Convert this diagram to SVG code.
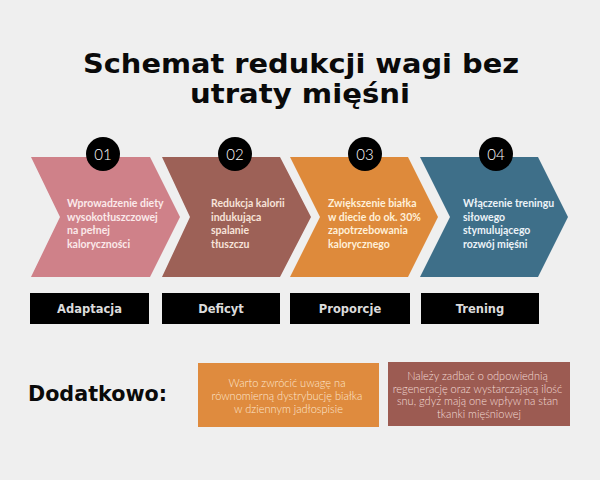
<svg xmlns="http://www.w3.org/2000/svg" width="600" height="480" viewBox="0 0 600 480">
  <style>
    .title { font-family: "DejaVu Sans", "Liberation Sans", sans-serif; font-weight: bold; font-size: 26px; fill: #0a0a0a; text-anchor: middle; }
    .num { font-family: "Lato", "Liberation Sans", sans-serif; font-weight: 300; font-size: 15px; fill: #ffffff; text-anchor: middle; }
    .step { font-family: "Lato", "Liberation Sans", sans-serif; font-weight: bold; font-size: 10.5px; }
    .lbl { font-family: "DejaVu Sans", "Liberation Sans", sans-serif; font-weight: bold; font-size: 11.5px; fill: #dcdcdc; text-anchor: middle; }
    .note { font-family: "Lato", "Liberation Sans", sans-serif; font-weight: 300; font-size: 11px; text-anchor: middle; }
    .circ { fill: #000000; }
    .box { fill: #000000; }
  </style>
  <rect x="0" y="0" width="600" height="480" fill="#efefef"/>

  <g id="title">
    <text class="title" x="301" y="73" textLength="436" lengthAdjust="spacingAndGlyphs">Schemat redukcji wagi bez</text>
    <text class="title" x="300" y="103" textLength="220" lengthAdjust="spacingAndGlyphs">utraty mięśni</text>
  </g>

  <g id="connectors"></g>

  <g id="step1">
    <polygon points="31,157 150,157 180,217 150,277 31,277 60,217" fill="#cf8189"/>
    <circle class="circ" cx="103" cy="154" r="17"/>
    <text class="num" x="103" y="159.5">01</text>
    <text class="step" fill="#fbe9ea" x="67">
      <tspan x="67" y="207">Wprowadzenie diety</tspan>
      <tspan x="67" y="220.5">wysokotłuszczowej</tspan>
      <tspan x="67" y="234">na pełnej</tspan>
      <tspan x="67" y="247.5">kaloryczności</tspan>
    </text>
    <rect class="box" x="30" y="293" width="119" height="31"/>
    <text class="lbl" x="89.5" y="313">Adaptacja</text>
  </g>

  <g id="step2">
    <polygon points="162,157 280,157 311,217 280,277 162,277 190,217" fill="#9d6157"/>
    <circle class="circ" cx="235" cy="154" r="17"/>
    <text class="num" x="235" y="159.5">02</text>
    <text class="step" fill="#f7e3d9">
      <tspan x="211" y="207">Redukcja kalorii</tspan>
      <tspan x="211" y="220.5">indukująca</tspan>
      <tspan x="211" y="234">spalanie</tspan>
      <tspan x="211" y="247.5">tłuszczu</tspan>
    </text>
    <rect class="box" x="162" y="293" width="118" height="31"/>
    <text class="lbl" x="221" y="313">Deficyt</text>
  </g>

  <g id="step3">
    <polygon points="290,157 408,157 438,217 408,277 290,277 320,217" fill="#de8a3b"/>
    <circle class="circ" cx="365" cy="154" r="17"/>
    <text class="num" x="365" y="159.5">03</text>
    <text class="step" fill="#fff0d9">
      <tspan x="328" y="207">Zwiększenie białka</tspan>
      <tspan x="328" y="220.5">w diecie do ok. 30%</tspan>
      <tspan x="328" y="234">zapotrzebowania</tspan>
      <tspan x="328" y="247.5">kalorycznego</tspan>
    </text>
    <rect class="box" x="290" y="293" width="120" height="31"/>
    <text class="lbl" x="350" y="313">Proporcje</text>
  </g>

  <g id="step4">
    <polygon points="420,157 538,157 568,217 538,277 420,277 450,217" fill="#3e6f89"/>
    <circle class="circ" cx="496" cy="154" r="17"/>
    <text class="num" x="496" y="159.5">04</text>
    <text class="step" fill="#ecf3f8">
      <tspan x="463" y="207">Włączenie treningu</tspan>
      <tspan x="463" y="220.5">siłowego</tspan>
      <tspan x="463" y="234">stymulującego</tspan>
      <tspan x="463" y="247.5">rozwój mięśni</tspan>
    </text>
    <rect class="box" x="421" y="293" width="118" height="31"/>
    <text class="lbl" x="480" y="313">Trening</text>
  </g>

  <g id="extra-label">
    <text x="28" y="401" font-family="DejaVu Sans, Liberation Sans, sans-serif" font-weight="bold" font-size="20.5" fill="#0a0a0a" textLength="139" lengthAdjust="spacingAndGlyphs">Dodatkowo:</text>
  </g>

  <g id="note1">
    <rect x="198" y="363" width="181" height="64" fill="#df8b3e"/>
    <text class="note" fill="#fde6cf">
      <tspan x="288.5" y="387">Warto zwrócić uwagę na</tspan>
      <tspan x="288.5" y="400">równomierną dystrybucję białka</tspan>
      <tspan x="288.5" y="413">w dziennym jadłospisie</tspan>
    </text>
  </g>

  <g id="note2">
    <rect x="388" y="362" width="182" height="64" fill="#9c5b52"/>
    <text class="note" fill="#f3dcd6">
      <tspan x="479" y="380">Należy zadbać o odpowiednią</tspan>
      <tspan x="479" y="392.7">regenerację oraz wystarczającą ilość</tspan>
      <tspan x="479" y="405.4">snu, gdyż mają one wpływ na stan</tspan>
      <tspan x="479" y="418.1">tkanki mięśniowej</tspan>
    </text>
  </g>
</svg>
